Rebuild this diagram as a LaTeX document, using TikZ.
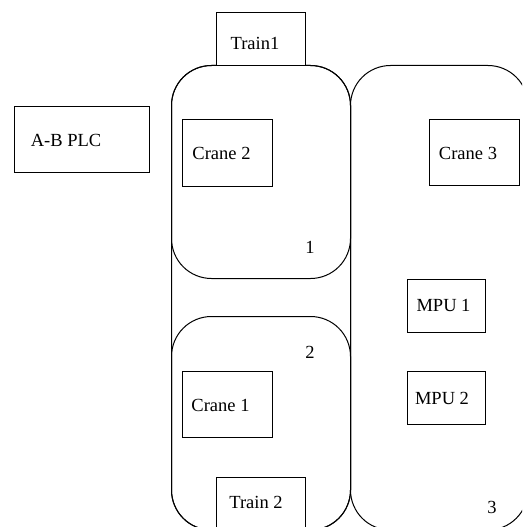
\documentclass[tikz,border=0pt]{standalone}
\usepackage{fontspec}
\setmainfont{Liberation Serif}
\newfontfamily\labelfont{Liberation Serif}
\begin{document}
\begin{tikzpicture}[x=1pt,y=-1pt,
  zone/.style={draw=black,line width=1pt,rounded corners=40pt},
  box/.style={draw=black,line width=1pt,fill=white,inner sep=0pt},
  lbl/.style={font=\labelfont\fontsize{18.5}{21}\selectfont,inner sep=0pt,anchor=center}]
\useasboundingbox (0,0) rectangle (522,527);
\clip (0,0) rectangle (522,527);

% zones of the yard
\draw[zone] (171.5,65.5) rectangle (350.5,530);
\draw[zone] (171.5,65.5) rectangle (350.5,278.5);
\draw[zone] (171.5,316.5) rectangle (350.5,530);
\draw[zone] (350.5,65.5) rectangle (528,530);

% zone numbers
\node[lbl] (z1) at (310,247) {1};
\node[lbl] (z2) at (310,352) {2};
\node[lbl] (z3) at (492,507) {3};

% equipment boxes
\node[box,minimum width=89.5pt,minimum height=53pt] (train1) at (261,39) {};
\node[lbl] (train1t) at (255,43) {Train1};

\node[box,minimum width=90pt,minimum height=67pt] (crane2) at (227,152.5) {};
\node[lbl] (crane2t) at (221.5,153) {Crane 2};

\node[box,minimum width=90pt,minimum height=66pt] (crane1) at (227,404) {};
\node[lbl] (crane1t) at (220.5,405) {Crane 1};

\node[box,minimum width=89.5pt,minimum height=70pt] (train2) at (261,512) {};
\node[lbl] (train2t) at (256,502) {Train 2};

\node[box,minimum width=90pt,minimum height=66pt] (crane3) at (474,152) {};
\node[lbl] (crane3t) at (468,153) {Crane 3};

\node[box,minimum width=78pt,minimum height=53pt] (mpu1) at (446,305.5) {};
\node[lbl] (mpu1t) at (443.5,305) {MPU 1};

\node[box,minimum width=78pt,minimum height=53pt] (mpu2) at (446,397.5) {};
\node[lbl] (mpu2t) at (442,398) {MPU 2};

\node[box,minimum width=135pt,minimum height=66pt] (plc) at (81.5,139) {};
\node[lbl] (plct) at (66,140) {A-B PLC};
\end{tikzpicture}
\end{document}
